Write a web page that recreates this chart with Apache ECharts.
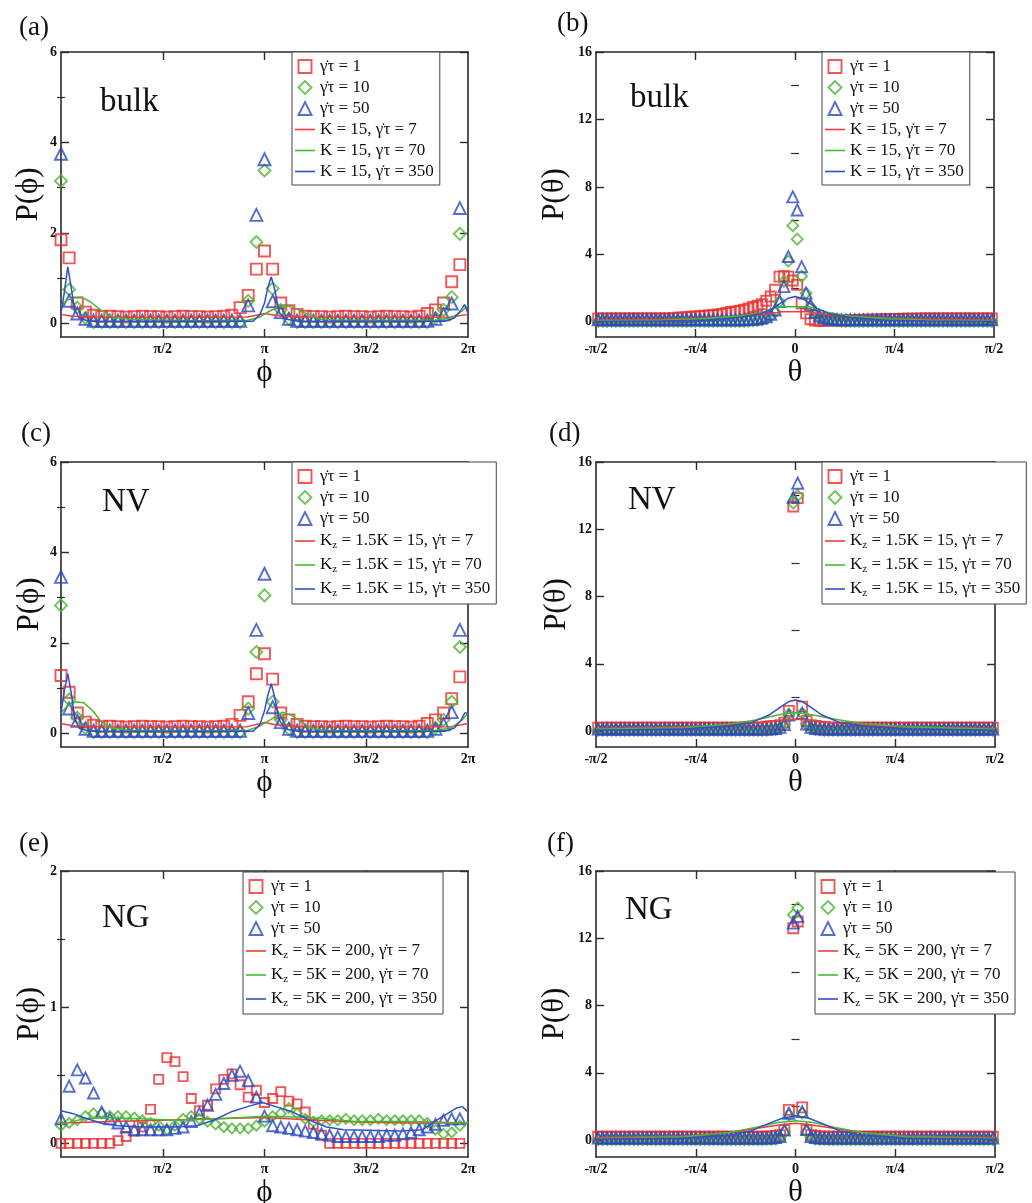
<!DOCTYPE html>
<html><head><meta charset="utf-8">
<script src="https://cdn.jsdelivr.net/npm/echarts/dist/echarts.min.js"></script>
<style>html,body{margin:0;padding:0;background:#fff}#c{width:1032px;height:1203px}</style>
</head><body><div id="c"></div><script>
// ---------- tick labels ----------
const phiTickValues = [90, 180, 270, 360];
const phiTickLabels = ['π/2', 'π', '3π/2', '2π'];
const phiTickMarks = [90, 180, 270];
const thetaTickValues = [-90, -45, 0, 45, 90];
const thetaTickLabels = ['-π/2', '-π/4', '0', 'π/4', 'π/2'];
const thetaTickMarks = [-45, 0, 45];

// ---------- names ----------
const scatterNames = ['γ\u0307τ = 1', 'γ\u0307τ = 10', 'γ\u0307τ = 50'];
const lineNamesA = ['K = 15, γ\u0307τ = 7', 'K = 15, γτ = 70', 'K = 15, γ\u0307τ = 350'];
const lineNamesB = ['K = 15, γ\u0307τ = 7', 'K = 15, γ\u0307τ = 70', 'K = 15, γ\u0307τ = 350'];
const lineNamesCD = ['Kz = 1.5K = 15, γ\u0307τ = 7', 'Kz = 1.5K = 15, γ\u0307τ = 70', 'Kz = 1.5K = 15, γ\u0307τ = 350'];
const lineNamesEF = ['Kz = 5K = 200, γ\u0307τ = 7', 'Kz = 5K = 200, γ\u0307τ = 70', 'Kz = 5K = 200, γ\u0307τ = 350'];

// ---------- sample positions (histogram bins, degrees) ----------
const PHI_BINS = 50, PHI_STEP = 7.2;
const THETA_BINS = 90, THETA_START = -89, THETA_STEP = 2;

// ---------- panel (a): bulk, P(phi) ----------
const aRed = [1.85,1.45,0.45,0.25,0.18,
 0.15,0.16,0.15,0.14,0.15,0.16,0.15,0.15,0.14,0.15,0.16,0.15,0.15,0.14,0.15,0.16,
 0.18,0.35,0.62,1.2,1.6,1.2,0.45,0.28,0.2,
 0.16,0.15,0.15,0.14,0.15,0.16,0.15,0.15,0.14,0.15,0.16,0.15,0.15,0.14,0.16,
 0.22,0.3,0.45,0.92,1.3];
const aGreen = [3.15,0.75,0.35,0.12,
 0.03,0.03,0.03,0.03,0.03,0.03,0.03,0.03,0.03,0.03,0.03,0.03,0.03,0.03,0.03,0.03,0.03,0.03,0.03,
 0.5,1.8,3.38,0.77,0.3,0.1,
 0.03,0.03,0.03,0.03,0.03,0.03,0.03,0.03,0.03,0.03,0.03,0.03,0.03,0.03,0.03,0.03,0.03,
 0.12,0.3,0.58,1.98];
const aBlue = [3.75,0.5,0.22,0.1,
 0.06,0.06,0.06,0.06,0.06,0.06,0.06,0.06,0.06,0.06,0.06,0.06,0.06,0.06,0.06,0.06,0.06,0.06,0.06,
 0.4,2.4,3.63,0.49,0.25,0.1,
 0.06,0.06,0.06,0.06,0.06,0.06,0.06,0.06,0.06,0.06,0.06,0.06,0.06,0.06,0.06,0.06,0.06,
 0.1,0.2,0.44,2.55];
const aRedLine = [[0,0.2],[10,0.16],[30,0.14],[90,0.13],[165,0.14],[180,0.22],[195,0.16],[215,0.14],[270,0.13],[345,0.14],[360,0.2]];
const aGreenLine = [[0,0.4],[6,0.52],[12,0.57],[18,0.58],[26,0.48],[35,0.3],[45,0.15],[60,0.09],[120,0.06],[165,0.07],[175,0.13],[185,0.28],[196,0.4],[205,0.36],[215,0.24],[228,0.1],[245,0.07],[330,0.07],[345,0.12],[355,0.28],[360,0.4]];
const aBlueLine = [[0,0.22],[3,0.7],[6,1.25],[9,0.8],[12,0.3],[16,0.12],[25,0.05],[170,0.05],[176,0.2],[180,0.45],[183,0.8],[186,1.03],[189,0.75],[193,0.25],[198,0.1],[210,0.05],[340,0.05],[348,0.12],[354,0.3],[357,0.42],[360,0.22]];

// ---------- panel (b): bulk, P(theta) ----------
const bRed = [
 0.2,0.2,0.2,0.2,0.2,0.2,0.2,0.2,0.2,0.2,
 0.2,0.2,0.2,0.2,0.2,0.2,0.2,0.22,0.24,0.26,
 0.28,0.3,0.32,0.34,0.36,0.38,0.4,0.43,0.47,0.52,
 0.58,0.62,0.66,0.72,0.8,0.88,0.95,1.05,1.25,1.5,
 1.9,2.68,2.7,2.68,2.45,2.2,1.1,0.5,0.15,0.08,
 0.06,0.06,0.07,0.07,0.08,0.08,0.09,0.1,0.1,0.11,
 0.12,0.12,0.13,0.14,0.14,0.15,0.16,0.16,0.17,0.18,
 0.18,0.19,0.19,0.2,0.2,0.2,0.2,0.2,0.2,0.2,
 0.2,0.2,0.2,0.2,0.2,0.2,0.2,0.2,0.2,0.2];
const bGreen = [
 0.03,0.03,0.03,0.03,0.03,0.03,0.03,0.03,0.03,0.03,
 0.03,0.03,0.03,0.03,0.03,0.03,0.03,0.03,0.03,0.03,
 0.03,0.03,0.03,0.03,0.03,0.03,0.03,0.03,0.03,0.03,
 0.03,0.03,0.03,0.03,0.04,0.05,0.07,0.12,0.2,0.35,
 0.6,1.2,2.4,3.6,5.7,4.9,2.7,1.7,0.9,0.5,
 0.3,0.2,0.12,0.07,0.05,0.04,0.03,0.03,0.03,0.03,
 0.03,0.03,0.03,0.03,0.03,0.03,0.03,0.03,0.03,0.03,
 0.03,0.03,0.03,0.03,0.03,0.03,0.03,0.03,0.03,0.03,
 0.03,0.03,0.03,0.03,0.03,0.03,0.03,0.03,0.03,0.03];
const bBlue = [
 0.12,0.12,0.12,0.12,0.12,0.12,0.12,0.12,0.12,0.12,
 0.12,0.12,0.12,0.12,0.12,0.12,0.12,0.12,0.12,0.12,
 0.12,0.12,0.12,0.12,0.12,0.12,0.12,0.12,0.12,0.12,
 0.12,0.12,0.12,0.12,0.13,0.15,0.18,0.22,0.3,0.45,
 0.7,1.2,2.09,3.87,7.41,6.63,3.27,1.7,1.0,0.55,
 0.35,0.25,0.18,0.15,0.13,0.12,0.12,0.12,0.12,0.12,
 0.12,0.12,0.12,0.12,0.12,0.12,0.12,0.12,0.12,0.12,
 0.12,0.12,0.12,0.12,0.12,0.12,0.12,0.12,0.12,0.12,
 0.12,0.12,0.12,0.12,0.12,0.12,0.12,0.12,0.12,0.12];
const bRedLine = [[-90,0.1],[-60,0.15],[-40,0.22],[-25,0.32],[-15,0.42],[-8,0.55],[-6,0.6],[6,0.6],[8,0.55],[15,0.42],[25,0.32],[40,0.22],[60,0.15],[90,0.1]];
const bGreenLine = [[-90,0.05],[-60,0.1],[-40,0.2],[-25,0.35],[-15,0.55],[-8,0.85],[-6,0.9],[6,0.9],[8,0.85],[15,0.55],[25,0.35],[40,0.2],[60,0.1],[90,0.05]];
const bBlueLine = [[-90,0.02],[-60,0.05],[-40,0.1],[-25,0.25],[-15,0.5],[-10,0.8],[-6,1.15],[-3,1.4],[0,1.5],[3,1.4],[6,1.15],[10,0.8],[15,0.5],[25,0.25],[40,0.1],[60,0.05],[90,0.02]];

// ---------- panel (c): NV, P(phi) ----------
const cRed = [1.28,0.91,0.45,0.25,0.18,
 0.15,0.16,0.15,0.14,0.15,0.16,0.15,0.15,0.14,0.15,0.16,0.15,0.15,0.14,0.15,0.16,
 0.2,0.4,0.7,1.32,1.76,1.2,0.45,0.3,0.2,
 0.16,0.15,0.15,0.14,0.15,0.16,0.15,0.15,0.14,0.15,0.16,0.15,0.15,0.14,0.16,
 0.22,0.3,0.45,0.77,1.25];
const cGreen = [2.83,0.75,0.35,0.12,
 0.03,0.03,0.03,0.03,0.03,0.03,0.03,0.03,0.03,0.03,0.03,0.03,0.03,0.03,0.03,0.03,0.03,0.03,0.03,
 0.55,1.8,3.05,0.7,0.3,0.1,
 0.03,0.03,0.03,0.03,0.03,0.03,0.03,0.03,0.03,0.03,0.03,0.03,0.03,0.03,0.03,0.03,0.03,
 0.12,0.3,0.7,1.91];
const cBlue = [3.46,0.55,0.28,0.1,
 0.06,0.06,0.06,0.06,0.06,0.06,0.06,0.06,0.06,0.06,0.06,0.06,0.06,0.06,0.06,0.06,0.06,0.06,0.06,
 0.45,2.29,3.53,0.58,0.25,0.1,
 0.06,0.06,0.06,0.06,0.06,0.06,0.06,0.06,0.06,0.06,0.06,0.06,0.06,0.06,0.06,0.06,0.06,
 0.1,0.2,0.47,2.29];
const cRedLine = [[0,0.22],[10,0.17],[30,0.15],[90,0.14],[165,0.15],[180,0.24],[195,0.17],[215,0.15],[270,0.14],[345,0.15],[360,0.22]];
const cGreenLine = [[0,0.45],[6,0.62],[13,0.7],[20,0.68],[28,0.5],[36,0.25],[45,0.12],[60,0.07],[120,0.05],[165,0.07],[175,0.15],[185,0.3],[196,0.47],[204,0.4],[213,0.25],[223,0.1],[240,0.06],[330,0.06],[345,0.12],[355,0.3],[360,0.45]];
const cBlueLine = [[0,0.45],[3,0.95],[6,1.32],[9,0.9],[12,0.35],[16,0.12],[25,0.05],[170,0.05],[176,0.2],[180,0.5],[183,0.85],[186,1.1],[189,0.8],[193,0.3],[198,0.1],[210,0.05],[340,0.05],[348,0.12],[354,0.3],[357,0.45],[360,0.45]];

// ---------- panel (d): NV, P(theta) ----------
const dRed = [
 0.2,0.2,0.2,0.2,0.2,0.2,0.2,0.2,0.2,0.2,
 0.2,0.2,0.2,0.2,0.2,0.2,0.2,0.2,0.2,0.2,
 0.2,0.2,0.2,0.2,0.2,0.2,0.2,0.2,0.2,0.2,
 0.2,0.2,0.2,0.2,0.2,0.2,0.2,0.22,0.25,0.28,
 0.3,0.35,0.5,1.2,13.35,13.85,1.45,0.6,0.35,0.3,
 0.26,0.23,0.2,0.2,0.2,0.2,0.2,0.2,0.2,0.2,
 0.2,0.2,0.2,0.2,0.2,0.2,0.2,0.2,0.2,0.2,
 0.2,0.2,0.2,0.2,0.2,0.2,0.2,0.2,0.2,0.2,
 0.2,0.2,0.2,0.2,0.2,0.2,0.2,0.2,0.2,0.2];
const dGreen = [
 0.03,0.03,0.03,0.03,0.03,0.03,0.03,0.03,0.03,0.03,
 0.03,0.03,0.03,0.03,0.03,0.03,0.03,0.03,0.03,0.03,
 0.03,0.03,0.03,0.03,0.03,0.03,0.03,0.03,0.03,0.03,
 0.03,0.03,0.03,0.03,0.03,0.03,0.03,0.03,0.04,0.06,
 0.1,0.18,0.4,1.0,13.55,14.0,1.05,0.4,0.18,0.1,
 0.06,0.04,0.03,0.03,0.03,0.03,0.03,0.03,0.03,0.03,
 0.03,0.03,0.03,0.03,0.03,0.03,0.03,0.03,0.03,0.03,
 0.03,0.03,0.03,0.03,0.03,0.03,0.03,0.03,0.03,0.03,
 0.03,0.03,0.03,0.03,0.03,0.03,0.03,0.03,0.03,0.03];
const dBlue = [
 0.12,0.12,0.12,0.12,0.12,0.12,0.12,0.12,0.12,0.12,
 0.12,0.12,0.12,0.12,0.12,0.12,0.12,0.12,0.12,0.12,
 0.12,0.12,0.12,0.12,0.12,0.12,0.12,0.12,0.12,0.12,
 0.12,0.12,0.12,0.12,0.12,0.12,0.12,0.12,0.12,0.13,
 0.15,0.22,0.38,0.95,13.9,14.74,1.05,0.42,0.22,0.15,
 0.13,0.12,0.12,0.12,0.12,0.12,0.12,0.12,0.12,0.12,
 0.12,0.12,0.12,0.12,0.12,0.12,0.12,0.12,0.12,0.12,
 0.12,0.12,0.12,0.12,0.12,0.12,0.12,0.12,0.12,0.12,
 0.12,0.12,0.12,0.12,0.12,0.12,0.12,0.12,0.12,0.12];
const dRedLine = [[-90,0.15],[-60,0.22],[-40,0.3],[-25,0.4],[-12,0.55],[-5,0.65],[0,0.7],[5,0.65],[12,0.55],[25,0.4],[40,0.3],[60,0.22],[90,0.15]];
const dGreenLine = [[-90,0.1],[-50,0.2],[-30,0.4],[-18,0.65],[-8,0.95],[0,1.1],[8,0.95],[18,0.7],[30,0.45],[50,0.25],[90,0.1]];
const dBlueLine = [[-90,0.05],[-50,0.12],[-30,0.3],[-20,0.5],[-12,0.95],[-6,1.5],[-3,1.75],[0,1.85],[3,1.75],[6,1.5],[12,0.95],[20,0.5],[30,0.3],[50,0.12],[90,0.05]];

// ---------- panel (e): NG, P(phi) ----------
const eRed = [0,0,0,0,0,0,0,
 0.02,0.05,0.09,0.12,0.25,0.47,0.63,0.6,0.49,0.33,
 0.24,0.28,0.4,0.47,0.51,0.43,0.34,0.39,0.3,0.33,
 0.38,0.31,0.29,0.23,0.14,0.06,
 0,0,0,0,0,0,0,0,0,0,0,0,0,0,0,0,0];
const eGreen = [0.13,0.15,0.17,0.2,0.22,0.22,0.2,0.2,0.2,0.19,
 0.17,0.15,0.13,0.1,0.13,0.18,0.2,0.18,0.16,0.14,
 0.12,0.11,0.11,0.11,0.13,0.16,0.2,0.22,0.26,0.22,
 0.18,0.16,0.17,0.17,0.17,0.18,0.17,0.17,0.17,0.18,
 0.17,0.17,0.17,0.17,0.17,0.15,0.1,0.07,0.08,0.13];
const eBlue = [0.18,0.42,0.54,0.48,0.37,0.23,0.18,0.15,0.12,0.1,
 0.1,0.1,0.1,0.1,0.11,0.12,0.16,0.22,0.28,0.36,
 0.44,0.5,0.53,0.46,0.34,0.2,0.13,0.12,0.11,0.1,
 0.09,0.08,0.07,0.06,0.05,0.05,0.05,0.05,0.05,0.05,
 0.06,0.06,0.07,0.08,0.1,0.12,0.14,0.17,0.18,0.18];
const eRedLine = [[0,0.15],[45,0.16],[90,0.17],[135,0.18],[180,0.19],[225,0.17],[270,0.155],[315,0.15],[360,0.15]];
const eGreenLine = [[0,0.14],[20,0.18],[40,0.19],[70,0.18],[100,0.17],[140,0.18],[180,0.2],[220,0.19],[260,0.16],[310,0.16],[360,0.15]];
const eBlueLine = [[0,0.24],[10,0.22],[20,0.19],[35,0.15],[50,0.13],[70,0.12],[100,0.12],[120,0.13],[135,0.17],[150,0.23],[165,0.27],[178,0.3],[190,0.27],[205,0.23],[220,0.17],[235,0.12],[250,0.1],[300,0.09],[320,0.1],[330,0.16],[340,0.21],[350,0.26],[355,0.27],[360,0.23]];

// ---------- panel (f): NG, P(theta) ----------
const fRed = [
 0.2,0.2,0.2,0.2,0.2,0.2,0.2,0.2,0.2,0.2,
 0.2,0.2,0.2,0.2,0.2,0.2,0.2,0.2,0.2,0.2,
 0.2,0.2,0.2,0.2,0.2,0.2,0.2,0.2,0.2,0.2,
 0.2,0.2,0.2,0.2,0.2,0.2,0.2,0.2,0.2,0.22,
 0.25,0.3,0.6,1.8,12.6,13.0,1.95,0.6,0.3,0.25,
 0.22,0.2,0.2,0.2,0.2,0.2,0.2,0.2,0.2,0.2,
 0.2,0.2,0.2,0.2,0.2,0.2,0.2,0.2,0.2,0.2,
 0.2,0.2,0.2,0.2,0.2,0.2,0.2,0.2,0.2,0.2,
 0.2,0.2,0.2,0.2,0.2,0.2,0.2,0.2,0.2,0.2];
const fGreen = [
 0.03,0.03,0.03,0.03,0.03,0.03,0.03,0.03,0.03,0.03,
 0.03,0.03,0.03,0.03,0.03,0.03,0.03,0.03,0.03,0.03,
 0.03,0.03,0.03,0.03,0.03,0.03,0.03,0.03,0.03,0.03,
 0.03,0.03,0.03,0.03,0.03,0.03,0.03,0.03,0.04,0.05,
 0.08,0.15,0.5,1.5,13.4,13.8,1.6,0.5,0.15,0.08,
 0.05,0.04,0.03,0.03,0.03,0.03,0.03,0.03,0.03,0.03,
 0.03,0.03,0.03,0.03,0.03,0.03,0.03,0.03,0.03,0.03,
 0.03,0.03,0.03,0.03,0.03,0.03,0.03,0.03,0.03,0.03,
 0.03,0.03,0.03,0.03,0.03,0.03,0.03,0.03,0.03,0.03];
const fBlue = [
 0.12,0.12,0.12,0.12,0.12,0.12,0.12,0.12,0.12,0.12,
 0.12,0.12,0.12,0.12,0.12,0.12,0.12,0.12,0.12,0.12,
 0.12,0.12,0.12,0.12,0.12,0.12,0.12,0.12,0.12,0.12,
 0.12,0.12,0.12,0.12,0.12,0.12,0.12,0.12,0.12,0.13,
 0.15,0.22,0.6,1.6,12.9,13.3,1.7,0.65,0.22,0.15,
 0.13,0.12,0.12,0.12,0.12,0.12,0.12,0.12,0.12,0.12,
 0.12,0.12,0.12,0.12,0.12,0.12,0.12,0.12,0.12,0.12,
 0.12,0.12,0.12,0.12,0.12,0.12,0.12,0.12,0.12,0.12,
 0.12,0.12,0.12,0.12,0.12,0.12,0.12,0.12,0.12,0.12];
const fRedLine = [[-90,0.15],[-50,0.25],[-30,0.45],[-15,0.75],[-5,0.95],[0,1.0],[5,0.95],[15,0.75],[30,0.45],[50,0.25],[90,0.15]];
const fGreenLine = [[-90,0.1],[-50,0.2],[-30,0.45],[-18,0.75],[-8,1.05],[0,1.15],[8,1.05],[18,0.75],[30,0.45],[50,0.2],[90,0.1]];
const fBlueLine = [[-90,0.05],[-50,0.12],[-30,0.3],[-20,0.55],[-12,1.0],[-6,1.3],[0,1.45],[6,1.3],[12,1.0],[20,0.55],[30,0.3],[50,0.12],[90,0.05]];

// ---------- styling ----------
const FONT = "'Liberation Serif','Times New Roman','DejaVu Serif',serif";
const AX = '#2a2a2a';
const SC = ['#ec2d2d', '#4cb52f', '#2b48c2'];
const LC = ['#f03c3c', '#48b830', '#3050c8'];
const SYM = ['rect', 'diamond', 'triangle'];
const LEG_SYM = ['path://M0,0H10V10H0Z', 'path://M5,0L10,5L5,10L0,5Z', 'path://M5,0L10,10H0Z'];
const LEG_LINE = 'path://M0,0H20V1.6H0Z';
const PHI = '\u03D5', THETA = 'θ';
const MARK_W = 1.9;

const phiGrid = Array.from({length: PHI_BINS}, (_, i) => i * PHI_STEP);
const thetaGrid = Array.from({length: THETA_BINS}, (_, k) => THETA_START + k * THETA_STEP);

const panels = [
 {grid:{left:61, top:52, width:407, height:285}, kind:'phi', y:[-0.3,6], yMajor:[0,2,4,6], yMinor:[1,3,5], yname:'P(' + PHI + ')', ygap:17,
  scatter:[aRed,aGreen,aBlue], lines:[aRedLine,aGreenLine,aBlueLine], lineNames:lineNamesA, sizes:[11,12,12],
  legend:{left:292, top:52}, label:{text:'(a)', left:19, top:14}, tag:{text:'bulk', left:100, top:86}},
 {grid:{left:596, top:52, width:398, height:285}, kind:'theta', y:[-0.9,16], yMajor:[0,4,8,12,16], yMinor:[2,6,10,14], yname:'P(' + THETA + ')', ygap:26,
  scatter:[bRed,bGreen,bBlue], lines:[bRedLine,bGreenLine,bBlueLine], lineNames:lineNamesB, sizes:[10,11,11],
  legend:{left:822, top:52}, label:{text:'(b)', left:557, top:10}, tag:{text:'bulk', left:630, top:82}},
 {grid:{left:61, top:462, width:407, height:285}, kind:'phi', y:[-0.3,6], yMajor:[0,2,4,6], yMinor:[1,3,5], yname:'P(' + PHI + ')', ygap:16,
  scatter:[cRed,cGreen,cBlue], lines:[cRedLine,cGreenLine,cBlueLine], lineNames:lineNamesCD, sizes:[11,12,12],
  legend:{left:292, top:462}, label:{text:'(c)', left:21, top:420}, tag:{text:'NV', left:102, top:486}},
 {grid:{left:596, top:462, width:399, height:285}, kind:'theta', y:[-0.95,16], yMajor:[0,4,8,12,16], yMinor:[2,6,10,14], yname:'P(' + THETA + ')', ygap:24,
  scatter:[dRed,dGreen,dBlue], lines:[dRedLine,dGreenLine,dBlueLine], lineNames:lineNamesCD, sizes:[10,11,11],
  legend:{left:822, top:462}, label:{text:'(d)', left:549, top:420}, tag:{text:'NV', left:628, top:484}},
 {grid:{left:61, top:871, width:407, height:286}, kind:'phi', y:[-0.1,2], yMajor:[0,1,2], yMinor:[0.5,1.5], yname:'P(' + PHI + ')', ygap:16,
  scatter:[eRed,eGreen,eBlue], lines:[eRedLine,eGreenLine,eBlueLine], lineNames:lineNamesEF, sizes:[9,10,11],
  legend:{left:243, top:872}, label:{text:'(e)', left:19, top:830}, tag:{text:'NG', left:102, top:902}},
 {grid:{left:596, top:871, width:399, height:286}, kind:'theta', y:[-1.0,16], yMajor:[0,4,8,12,16], yMinor:[2,6,10,14], yname:'P(' + THETA + ')', ygap:26,
  scatter:[fRed,fGreen,fBlue], lines:[fRedLine,fGreenLine,fBlueLine], lineNames:lineNamesEF, sizes:[10,11,11],
  legend:{left:815, top:872}, label:{text:'(f)', left:547, top:830}, tag:{text:'NG', left:625, top:894}}
];

const grids = [], xAxes = [], yAxes = [], series = [], legends = [], titles = [];
const lbl = (vals, labs) => v => { for (let i = 0; i < vals.length; i++) if (Math.abs(vals[i] - v) < 1e-6) return labs[i]; return ''; };

panels.forEach((p, gi) => {
  grids.push(Object.assign({outerBoundsMode:'none', containLabel:false}, p.grid));
  const isPhi = p.kind === 'phi';
  const xmin = isPhi ? 0 : -90, xmax = isPhi ? 360 : 90;
  const tv = isPhi ? phiTickValues : thetaTickValues;
  const tl = isPhi ? phiTickLabels : thetaTickLabels;
  const tm = isPhi ? phiTickMarks : thetaTickMarks;
  const axLine = {show:true, onZero:false, lineStyle:{color:AX, width:1.6}};
  const xBase = {gridIndex:gi, type:'value', min:xmin, max:xmax, splitLine:{show:false}, axisLine:axLine};
  xAxes.push(Object.assign({}, xBase, {position:'bottom',
    axisTick:{show:true, inside:true, length:8, customValues:tm, lineStyle:{color:AX, width:1.4}},
    axisLabel:{show:true, customValues:tv, formatter:lbl(tv, tl), margin:5, fontFamily:FONT, fontWeight:'bold', fontSize:14, color:'#111'},
    name: isPhi ? PHI : THETA, nameLocation:'middle', nameGap:16,
    nameTextStyle:{fontFamily:FONT, fontSize:31, color:'#111'}}));
  xAxes.push(Object.assign({}, xBase, {position:'top',
    axisTick:{show:true, inside:true, length:8, customValues:tm, lineStyle:{color:AX, width:1.4}},
    axisLabel:{show:false}}));
  const yBase = {gridIndex:gi, type:'value', min:p.y[0], max:p.y[1], splitLine:{show:false}};
  yAxes.push(Object.assign({}, yBase, {position:'left', axisLine:axLine,
    axisTick:{show:true, inside:true, length:8, customValues:p.yMajor, lineStyle:{color:AX, width:1.4}},
    axisLabel:{show:true, customValues:p.yMajor, formatter:v => String(v), margin:4, fontFamily:FONT, fontWeight:'bold', fontSize:14, color:'#111'},
    name:p.yname, nameLocation:'middle', nameRotate:90, nameGap:p.ygap,
    nameTextStyle:{fontFamily:FONT, fontSize:31, color:'#111'}}));
  yAxes.push(Object.assign({}, yBase, {position:'right', axisLine:axLine,
    axisTick:{show:true, inside:true, length:8, customValues:p.yMajor, lineStyle:{color:AX, width:1.4}},
    axisLabel:{show:false}}));
  yAxes.push(Object.assign({}, yBase, {position:'left', axisLine:{show:false},
    axisTick:{show:true, inside:true, length:4, customValues:p.yMinor, lineStyle:{color:AX, width:1.2}},
    axisLabel:{show:false}}));
  yAxes.push(Object.assign({}, yBase, {position:'right', axisLine:{show:false},
    axisTick:{show:true, inside:true, length:4, customValues:p.yMinor, lineStyle:{color:AX, width:1.2}},
    axisLabel:{show:false}}));

  const xs = isPhi ? phiGrid : thetaGrid;
  p.scatter.forEach((arr, si) => {
    series.push({type:'scatter', name:scatterNames[si], xAxisIndex:2*gi, yAxisIndex:4*gi,
      data: arr.map((v, i) => [xs[i], v]), symbol:SYM[si], symbolSize:p.sizes[si], clip:false, silent:true,
      color: SC[si],
      itemStyle:{color:'rgba(255,255,255,0)', borderColor:SC[si], borderWidth:MARK_W}, z:2});
  });
  p.lines.forEach((arr, li) => {
    series.push({type:'line', name:p.lineNames[li], xAxisIndex:2*gi, yAxisIndex:4*gi, data:arr,
      symbol:'none', showSymbol:false, silent:true, color:LC[li],
      lineStyle:{color:LC[li], width:1.5}, z:3});
  });

  const legData = scatterNames.map((n, i) => ({name:n, icon:LEG_SYM[i],
      itemStyle:{color:'rgba(255,255,255,0)', borderColor:SC[i], borderWidth:MARK_W}}))
    .concat(p.lineNames.map((n, i) => ({name:n, icon:LEG_LINE,
      itemStyle:{color:LC[i], borderWidth:0}})));
  legends.push({orient:'vertical', left:p.legend.left, top:p.legend.top, padding:[6,6,5,3], itemGap:4,
    itemWidth:20, itemHeight:13, symbolKeepAspect:true, backgroundColor:'#fff', borderColor:'#444', borderWidth:1, borderRadius:0,
    selectedMode:false, data: legData,
    formatter: n => n.indexOf('Kz') === 0 ? 'K{sub|z}' + n.slice(2) : n,
    textStyle:{fontFamily:FONT, fontSize:17, color:'#111', lineHeight:17,
      rich:{sub:{fontFamily:FONT, fontSize:11, lineHeight:11, padding:[9,0,0,0], color:'#111'}}}});

  titles.push({text:p.label.text, left:p.label.left, top:p.label.top, padding:0,
    textStyle:{fontFamily:FONT, fontSize:27, fontWeight:'normal', color:'#111'}});
  titles.push({text:p.tag.text, left:p.tag.left, top:p.tag.top, padding:0,
    textStyle:{fontFamily:FONT, fontSize:33, fontWeight:'normal', color:'#111'}});
});

const chart = echarts.init(document.getElementById('c'), null, {renderer:'canvas'});
chart.setOption({
  animation:false, backgroundColor:'#fff',
  title:titles, grid:grids, xAxis:xAxes, yAxis:yAxes, legend:legends, series:series,
  tooltip:{show:false}
});
</script></body></html>
